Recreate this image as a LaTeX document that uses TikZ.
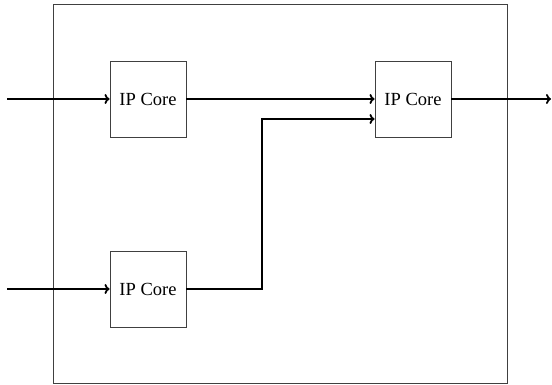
\documentclass[tikz,border=0pt]{standalone}
\usepackage{fontspec}
\setmainfont{Liberation Serif}
\usetikzlibrary{arrows.meta}
\begin{document}
\begin{tikzpicture}[x=1pt,y=-1pt,
  core/.style={draw=black!75,line width=0.9pt,minimum width=76pt,minimum height=76pt,inner sep=0pt,font=\fontsize{18.5}{22}\selectfont},
  wire/.style={line width=1.8pt,-{To[length=5pt,width=10pt]}}]
\useasboundingbox (0,0) rectangle (552,385);
\draw[draw=black!75,line width=1pt] (53,5) rectangle (507,383);
\node[core] (a) at (148,99) {IP Core};
\node[core] (b) at (148,289) {IP Core};
\node[core] (c) at (413,99) {IP Core};
\coordinate (ina) at (7,99);
\coordinate (inb) at (7,289);
\coordinate (out) at (551,99);
\coordinate (bend1) at (262,289);
\coordinate (bend2) at (262,119);
\coordinate (cin2) at (c.west |- bend2);
\draw[wire] (ina) -- (a.west);
\draw[wire] (inb) -- (b.west);
\draw[wire] (a.east) -- (c.west);
\draw[wire] (b.east) -- (bend1) -- (bend2) -- (cin2);
\draw[wire] (c.east) -- (out);
\end{tikzpicture}
\end{document}
